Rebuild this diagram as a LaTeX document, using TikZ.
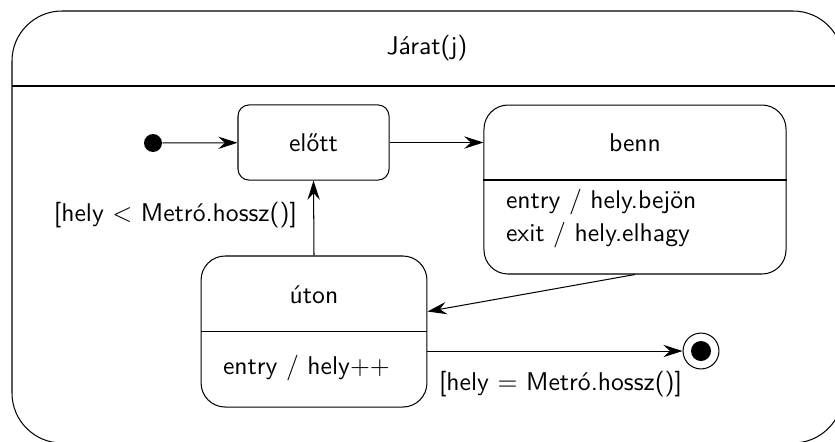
\documentclass[tikz,border=0pt]{standalone}
\usepackage{amsmath,tikz}
\usetikzlibrary{arrows.meta,calc,positioning}

\begin{document}
\begin{tikzpicture}[x=0.39pt,y=-0.39pt,>={Stealth[length=7.5pt,width=4.8pt,inset=2.6pt]},
  every node/.style={font=\sffamily},
  state/.style={draw,rectangle,inner sep=0pt},
  dot/.style={fill,circle,inner sep=0pt}]
\useasboundingbox (0,0) rectangle (835,441);
\clip (0,0) rectangle (835,441);
% outer composite state
\draw[rounded corners=19.5pt] (12,11) rectangle (843,443);
\draw (12,86)--(843,86);
\node (jarat) at (427,48) {Járat(j)};
% states
\node[dot,minimum size=7pt] (init) at (153,143) {};
\node[state,rounded corners=4.3pt,minimum width=58.9pt,minimum height=29.3pt] (elott) at (313.5,142.5) {előtt};
\node[state,rounded corners=9.4pt,minimum width=117.8pt,minimum height=65.9pt] (benn) at (635,189.5) {};
\node[state,rounded corners=9.4pt,minimum width=88.1pt,minimum height=58.9pt] (uton) at (314,331.5) {};
\node[draw,circle,inner sep=0pt,minimum size=14pt] (fin) at (701,351) {};
\node[dot,minimum size=7.8pt] (findot) at (fin.center) {};
% compartments
\draw (benn.west |- 0,180)--(benn.east |- 0,180);
\draw (uton.west |- 0,331)--(uton.east |- 0,331);
\node (bennname) at (635,143) {benn};
\node[anchor=west] (bennentry) at (497,202) {entry / hely.bejön};
\node[anchor=west] (bennexit) at (497,235) {exit / hely.elhagy};
\node (utonname) at (314,295) {úton};
\node[anchor=west] (utonentry) at (214,368) {entry / hely$++$};
% transitions
\draw[->] (init)--(elott);
\draw[->] (elott.east)--(elott.east -| benn.west);
\draw[->] (benn.south)--($(uton.east)+(0,-20)$);
\draw[->] (uton.north)--(elott.south);
\draw[->] (uton.east |- fin)--(fin);
\node[anchor=east] (guardlt) at (306,215) {[hely $<$ Metró.hossz()]};
\node[anchor=west] (guardeq) at (430,384) {[hely $=$ Metró.hossz()]};
\end{tikzpicture}
\end{document}
